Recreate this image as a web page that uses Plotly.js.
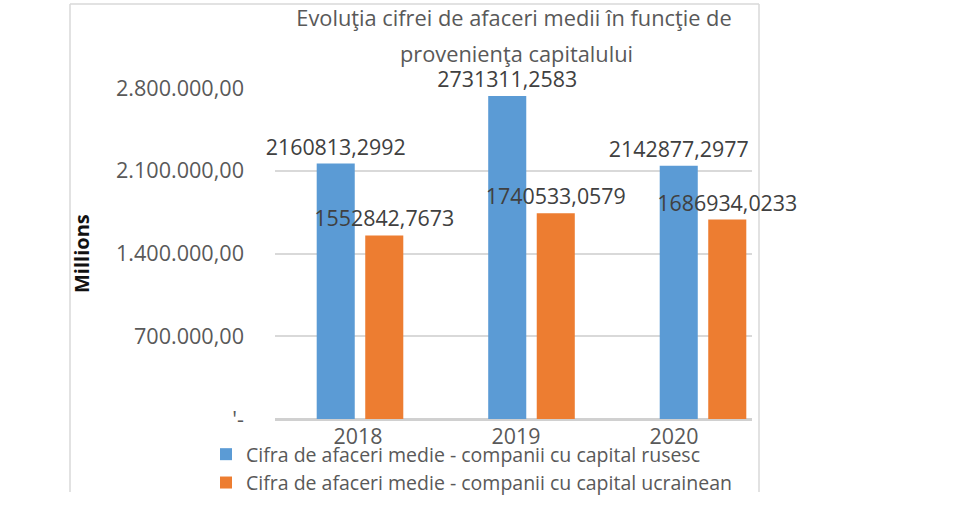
<!DOCTYPE html>
<html>
<head>
<meta charset="utf-8">
<script src="https://cdn.plot.ly/plotly-3.0.1.min.js"></script>
<style>html,body{margin:0;padding:0;background:#fff;}#chart{width:979px;height:526px;}</style>
</head>
<body>
<div id="chart"></div>
<script>
const years = ["2018", "2019", "2020"];
const rusValues = [2160813.2992, 2731311.2583, 2142877.2977];
const ukrValues = [1552842.7673, 1740533.0579, 1686934.0233];
const seriesNames = [
  "Cifra de afaceri medie - companii cu capital rusesc",
  "Cifra de afaceri medie - companii cu capital ucrainean"
];
const yTickVals = [0, 700000, 1400000, 2100000, 2800000];
const yTickText = ["'-", "700.000,00", "1.400.000,00", "2.100.000,00", "2.800.000,00"];
const titleLines = ["Evoluţia cifrei de afaceri medii în funcţie de", "provenienţa capitalului"];
const yTitle = "Millions";

const FONT = "Open Sans, Lato, sans-serif";
const fmt = v => v.toFixed(4).replace('.', ',');

const barCommon = {
  type: 'bar', xaxis: 'x', yaxis: 'y',
  textposition: 'outside', cliponaxis: false, constraintext: 'none',
  textfont: {family: FONT, size: 21.4, color: '#404040'},
  hoverinfo: 'skip'
};

const traces = [
  Object.assign({}, barCommon, {
    x: years, y: rusValues, name: seriesNames[0],
    text: rusValues.map(fmt),
    marker: {color: '#5B9BD5'}
  }),
  Object.assign({}, barCommon, {
    x: years, y: ukrValues, name: seriesNames[1],
    text: ukrValues.map(fmt),
    marker: {color: '#ED7D31'}
  }),
  {
    type: 'scatter', mode: 'markers', x: years, y: [0, 0, 0],
    xaxis: 'x2', yaxis: 'y', marker: {opacity: 0}, showlegend: false, hoverinfo: 'skip'
  }
];

const L = 275, R = 752, T = 88, B = 419;
const W = R - L, H = B - T;
const px = p => (p - L) / W;
const py = p => (B - p) / H;

const layout = {
  width: 979, height: 526,
  margin: {l: L, r: 979 - R, t: T, b: 526 - B, pad: 0},
  paper_bgcolor: '#ffffff', plot_bgcolor: '#ffffff',
  font: {family: FONT, color: '#595959', size: 21},
  title: {
    text: titleLines[0],
    font: {family: FONT, size: 21.8, color: '#595959'},
    x: px(514), xref: 'paper', xanchor: 'center',
    y: 1 - 18 / 526, yref: 'container', yanchor: 'middle'
  },
  barmode: 'group', bargap: 0.434, bargroupgap: 0.216,
  showlegend: true,
  legend: {
    orientation: 'v', x: px(206), y: py(435), xanchor: 'left', yanchor: 'top',
    font: {family: FONT, size: 19.5, color: '#595959'},
    bgcolor: 'rgba(0,0,0,0)', tracegroupgap: 0, itemclick: false
  },
  xaxis: {
    type: 'category', range: [-0.4956, 2.2857],
    showticklabels: false, showgrid: false, zeroline: false, showline: false, ticks: ''
  },
  xaxis2: {
    type: 'category', overlaying: 'x', side: 'bottom', anchor: 'y', range: [-0.525, 2.494],
    showgrid: false, zeroline: false, showline: false, ticks: '',
    tickfont: {family: FONT, size: 21.4, color: '#595959'}, ticklabelstandoff: 3
  },
  yaxis: {
    range: [0, 2800000], tickvals: yTickVals, ticktext: yTickText,
    showgrid: true, gridcolor: '#D9D9D9', gridwidth: 2,
    zeroline: true, zerolinecolor: '#D0D0D0', zerolinewidth: 3,
    showline: false, ticks: '',
    tickfont: {family: FONT, size: 21.6, color: '#595959'},
    ticklabelstandoff: 30
  },
  annotations: [
    {
      text: titleLines[1], showarrow: false,
      xref: 'paper', yref: 'paper', x: px(516), y: py(53),
      xanchor: 'center', yanchor: 'middle',
      font: {family: FONT, size: 21.8, color: '#595959'}
    },
    {
      text: yTitle, textangle: -90, showarrow: false,
      xref: 'paper', yref: 'paper', x: px(81), y: py(254),
      xanchor: 'center', yanchor: 'middle',
      font: {family: FONT, size: 20, color: '#111111', weight: 'bold'}
    }
  ],
  shapes: [
    {type: 'line', xref: 'paper', yref: 'paper', x0: px(70), x1: px(70), y0: py(492), y1: py(4), line: {color: '#D9D9D9', width: 1.5}, layer: 'below'},
    {type: 'line', xref: 'paper', yref: 'paper', x0: px(70), x1: px(759), y0: py(4), y1: py(4), line: {color: '#D9D9D9', width: 1.5}, layer: 'below'},
    {type: 'line', xref: 'paper', yref: 'paper', x0: px(759), x1: px(759), y0: py(492), y1: py(4), line: {color: '#D9D9D9', width: 1.5}, layer: 'below'}
  ]
};

Plotly.newPlot('chart', traces, layout, {staticPlot: true, displayModeBar: false});
</script>
</body>
</html>
